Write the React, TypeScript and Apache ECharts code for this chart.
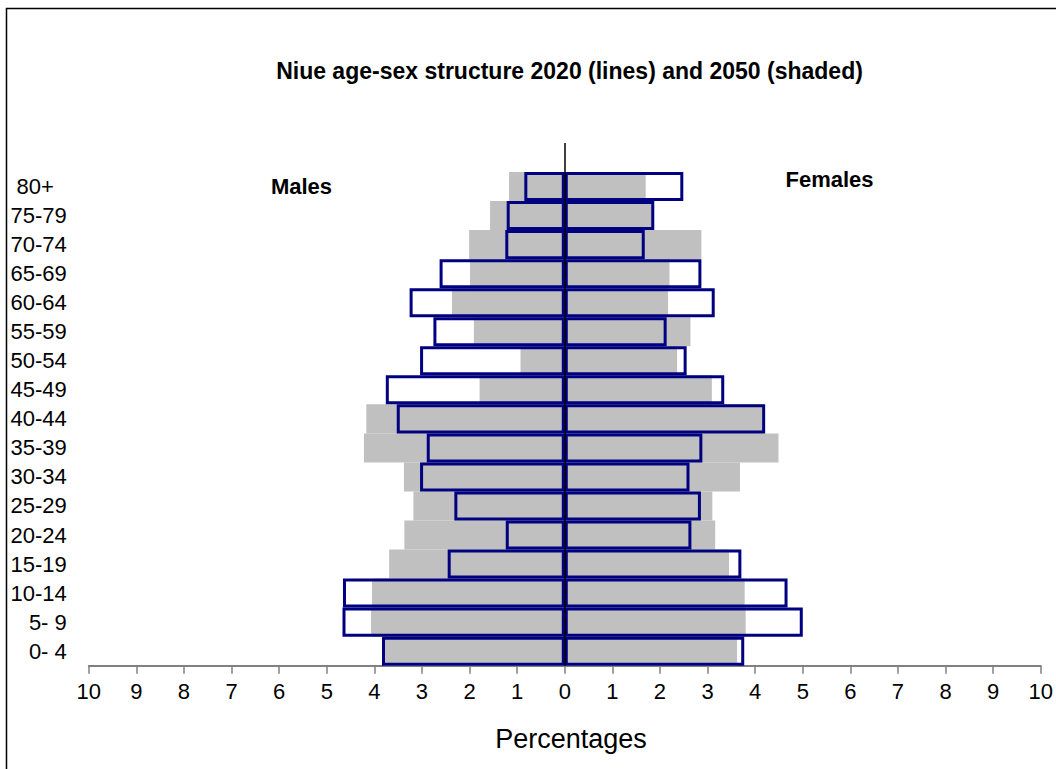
import React, { useEffect, useRef } from "react";
import * as echarts from "echarts";

const ages = ["0- 4", "5- 9", "10-14", "15-19", "20-24", "25-29", "30-34", "35-39", "40-44", "45-49", "50-54", "55-59", "60-64", "65-69", "70-74", "75-79", "80+"];
const categories = [...ages, ""];

// 2020 (outlined bars), percentages
const male2020 = [3.84, 4.67, 4.66, 2.46, 1.24, 2.32, 3.04, 2.9, 3.53, 3.76, 3.04, 2.76, 3.26, 2.63, 1.25, 1.22, 0.85];
const female2020 = [3.77, 5.0, 4.68, 3.71, 2.66, 2.86, 2.62, 2.89, 4.21, 3.35, 2.56, 2.14, 3.15, 2.87, 1.68, 1.88, 2.49];
// 2050 (shaded bars), percentages
const male2050 = [3.8, 4.07, 4.05, 3.69, 3.37, 3.18, 3.38, 4.22, 4.17, 1.79, 0.93, 1.91, 2.37, 1.99, 2.01, 1.57, 1.17];
const female2050 = [3.62, 3.8, 3.78, 3.45, 3.16, 3.1, 3.68, 4.49, 4.18, 3.09, 2.36, 2.64, 2.17, 2.2, 2.87, 1.86, 1.7];

const xTicksMin = -10;
const xTicksMax = 10;

const FONT = "'Liberation Sans', Arial, sans-serif";

export default function App() {
  const ref = useRef<HTMLDivElement>(null);

  useEffect(() => {
    if (!ref.current) return;
    const chart = echarts.init(ref.current, null, { renderer: "svg" });

    const shaded = {
      type: "bar",
      barGap: "-100%",
      barCategoryGap: 0,
      z: 2,
      itemStyle: { color: "#C0C0C0", borderWidth: 0 },
      silent: true,
    };
    const outline = {
      type: "bar",
      barGap: "-100%",
      barCategoryGap: 0,
      z: 3,
      itemStyle: { color: "rgba(255,255,255,0)", borderColor: "#000080", borderWidth: 3 },
      silent: true,
    };

    chart.setOption({
      animation: false,
      backgroundColor: "#ffffff",
      textStyle: { fontFamily: FONT },
      grid: { left: 88.8, right: 12.4, top: 143, bottom: 103.3, containLabel: false },
      xAxis: {
        type: "value",
        min: xTicksMin,
        max: xTicksMax,
        interval: 1,
        splitLine: { show: false },
        axisLine: { show: true, onZero: false, lineStyle: { color: "#808080", width: 2 } },
        axisTick: { show: true, length: 8, lineStyle: { color: "#808080", width: 1.5 } },
        axisLabel: {
          color: "#000",
          fontSize: 22,
          fontFamily: FONT,
          margin: 15,
          formatter: (v: number) => String(Math.abs(v)),
        },
      },
      yAxis: {
        type: "category",
        data: categories,
        axisLine: { show: false },
        axisTick: { show: false },
        splitLine: { show: false },
        axisLabel: {
          color: "#000",
          fontSize: 22,
          fontFamily: FONT,
          margin: 22,
          formatter: (v: string) => (v === "80+" ? `{p|${v}}` : v),
          rich: {
            p: { fontSize: 22, fontFamily: FONT, color: "#000", padding: [0, 13, 0, 0] },
          },
        },
      },
      series: [
        { ...shaded, name: "Males 2050", data: male2050.map((v) => -v) },
        { ...shaded, name: "Females 2050", data: female2050 },
        { ...outline, name: "Males 2020", data: male2020.map((v) => -v) },
        {
          ...outline,
          name: "Females 2020",
          data: female2020,
          markLine: {
            silent: true,
            symbol: ["none", "none"],
            label: { show: false },
            lineStyle: { color: "#000", width: 1.5, type: "solid" },
            data: [{ xAxis: 0 }],
          },
        },
      ],
      graphic: [
        {
          type: "rect",
          shape: { x: 6.5, y: 8.5, width: 1200, height: 900 },
          style: { fill: "none", stroke: "#000", lineWidth: 1.5 },
          silent: true,
        },
        {
          type: "text",
          x: 569.5,
          y: 71,
          style: {
            text: "Niue age-sex structure 2020 (lines) and 2050 (shaded)",
            fill: "#000",
            font: `bold 23px ${FONT}`,
            align: "center",
            verticalAlign: "middle",
          },
        },
        {
          type: "text",
          x: 301.5,
          y: 186,
          style: { text: "Males", fill: "#000", font: `bold 22px ${FONT}`, align: "center", verticalAlign: "middle" },
        },
        {
          type: "text",
          x: 829.5,
          y: 179,
          style: { text: "Females", fill: "#000", font: `bold 22px ${FONT}`, align: "center", verticalAlign: "middle" },
        },
        {
          type: "text",
          x: 571,
          y: 739,
          style: { text: "Percentages", fill: "#000", font: `27px ${FONT}`, align: "center", verticalAlign: "middle" },
        },
      ],
    });

    return () => chart.dispose();
  }, []);

  return (
    <div
      ref={ref}
      style={{ position: "absolute", left: 0, top: 0, width: 1056, height: 769, overflow: "hidden" }}
    />
  );
}
